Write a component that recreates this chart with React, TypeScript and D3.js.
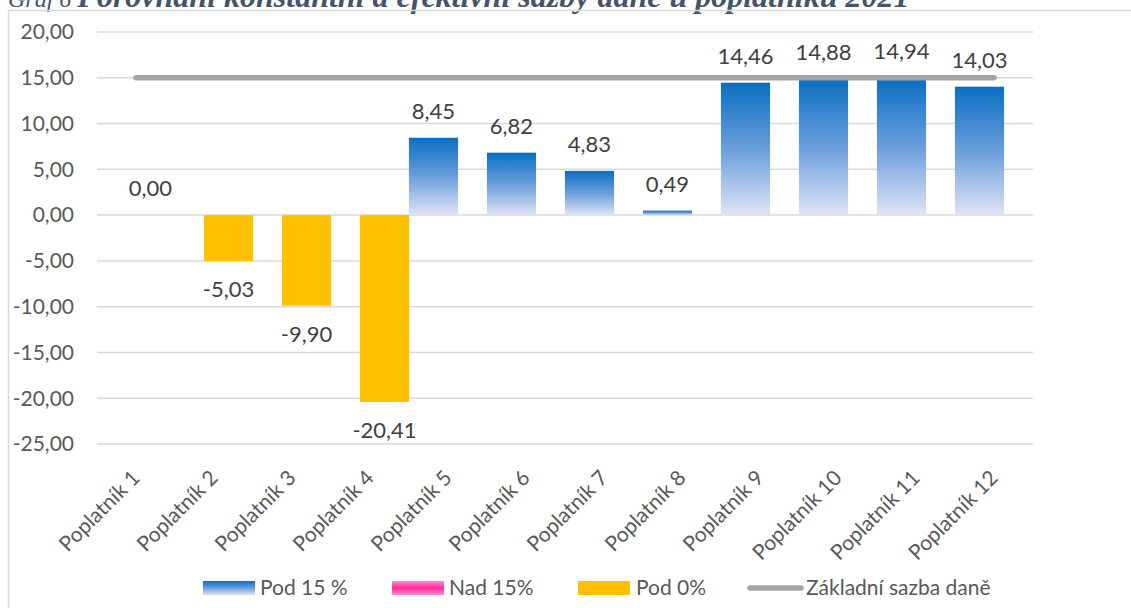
import React from 'react';
import { scaleBand, scaleLinear, formatLocale } from 'd3';

// chart data
const categories = ['Poplatník 1', 'Poplatník 2', 'Poplatník 3', 'Poplatník 4', 'Poplatník 5', 'Poplatník 6',
    'Poplatník 7', 'Poplatník 8', 'Poplatník 9', 'Poplatník 10', 'Poplatník 11', 'Poplatník 12'];
const pod15 = [null, null, null, null, 8.45, 6.82, 4.83, 0.49, 14.46, 14.88, 14.94, 14.03];
const nad15 = [null, null, null, null, null, null, null, null, null, null, null, null];
const pod0 = [0, -5.03, -9.9, -20.41, null, null, null, null, null, null, null, null];
const zakladniSazba = [15, 15, 15, 15, 15, 15, 15, 15, 15, 15, 15, 15];
const yTicks = [20, 15, 10, 5, 0, -5, -10, -15, -20, -25];
const seriesNames = ['Pod 15 %', 'Nad 15%', 'Pod 0%', 'Základní sazba daně'];

const W = 1131, H = 608;
const FONT = 'Lato, "Open Sans", sans-serif';
const czFmt = formatLocale({ decimal: ',', thousands: ' ', grouping: [3], currency: ['', ' Kč'], minus: '-' }).format('.2f');

const App = () => {
    const x = scaleBand().domain(categories).range([97, 1033]).padding(0);
    const y = scaleLinear().domain([-25, 20]).range([444, 32]);
    const bw = x.bandwidth() * 0.63;
    const off = x.bandwidth() * 0.186;
    const cx = (c) => x(c) + x.bandwidth() / 2;

    const series = [
        { values: pod15, fill: 'url(#blueGrad)', dx: -off },
        { values: nad15, fill: 'url(#pinkGrad)', dx: 0 },
        { values: pod0, fill: '#ffc000', dx: off },
    ];

    const linePts = categories.map((c, i) => `${cx(c)},${y(zakladniSazba[i])}`).join(' ');

    return (
        <svg width={W} height={H} style={{ position: 'absolute', left: 0, top: 0, background: '#fff' }}
            fontFamily={FONT}>
            <defs>
                <linearGradient id="blueGrad" x1="0" y1="0" x2="0" y2="1">
                    <stop offset="0" stopColor="#0a6fc2" />
                    <stop offset="0.5" stopColor="#6a9edb" />
                    <stop offset="1" stopColor="#e0e4f7" />
                </linearGradient>
                <linearGradient id="pinkGrad" x1="0" y1="0" x2="0" y2="1">
                    <stop offset="0" stopColor="#ff8fcf" />
                    <stop offset="0.5" stopColor="#ff2aa0" />
                    <stop offset="1" stopColor="#ff8fcf" />
                </linearGradient>
            </defs>

            {/* title, cut off at the top like in the source */}
            <text x={8} y={7} fontFamily='"Liberation Serif", serif' fontStyle="italic" fill="#44546a">
                <tspan fontSize={24}>Graf 6 </tspan>
                <tspan fontSize={32} fontWeight="bold">Porovnání konstantní a efektivní sazby daně u poplatníků 2021</tspan>
            </text>

            {/* chart frame */}
            <rect x={8.5} y={10.5} width={W + 20} height={H + 20} fill="none" stroke="#d9d9d9" strokeWidth={1.5} />

            {/* gridlines + y labels */}
            {yTicks.map(t => (
                <g key={t}>
                    <line x1={97} x2={1033} y1={y(t)} y2={y(t)} stroke="#d9d9d9" strokeWidth={1.5} />
                    <text x={74} y={y(t)} dy="0.35em" textAnchor="end" fontSize={21} fill="#595959">{czFmt(t)}</text>
                </g>
            ))}

            {/* bars */}
            {series.map((s, si) => s.values.map((v, i) => {
                if (v === null) return null;
                const c = categories[i];
                const y0 = Math.min(y(v), y(0)), h = Math.abs(y(v) - y(0));
                return <rect key={`${si}-${i}`} x={cx(c) + s.dx - bw / 2} y={y0} width={bw} height={h} fill={s.fill} />;
            }))}

            {/* base rate line */}
            <polyline points={linePts} fill="none" stroke="#a5a5a5" strokeWidth={5.5} strokeLinecap="round" />

            {/* data labels */}
            {series.map((s, si) => s.values.map((v, i) => {
                if (v === null) return null;
                const c = categories[i];
                const ty = v >= 0 ? y(v) - 19 : y(v) + 36;
                return <text key={`l${si}-${i}`} x={cx(c) + s.dx} y={ty} textAnchor="middle" fontSize={22} fill="#404040">{czFmt(v)}</text>;
            }))}

            {/* category labels */}
            {categories.map(c => (
                <text key={c} transform={`translate(${cx(c)},${474}) rotate(-45)`} dy="0.35em"
                    textAnchor="end" fontSize={21} fill="#595959">{c}</text>
            ))}

            {/* legend */}
            <g fontSize={21} fill="#595959">
                <rect x={203} y={581} width={52} height={14} fill="url(#blueGrad)" />
                <text x={260} y={588} dy="0.35em">{seriesNames[0]}</text>
                <rect x={392} y={581} width={52} height={14} fill="url(#pinkGrad)" />
                <text x={449} y={588} dy="0.35em">{seriesNames[1]}</text>
                <rect x={578} y={581} width={52} height={14} fill="#ffc000" />
                <text x={636} y={588} dy="0.35em">{seriesNames[2]}</text>
                <line x1={750} x2={801} y1={588} y2={588} stroke="#a5a5a5" strokeWidth={5.5} strokeLinecap="round" />
                <text x={806} y={588} dy="0.35em">{seriesNames[3]}</text>
            </g>
        </svg>
    );
};

export default App;
